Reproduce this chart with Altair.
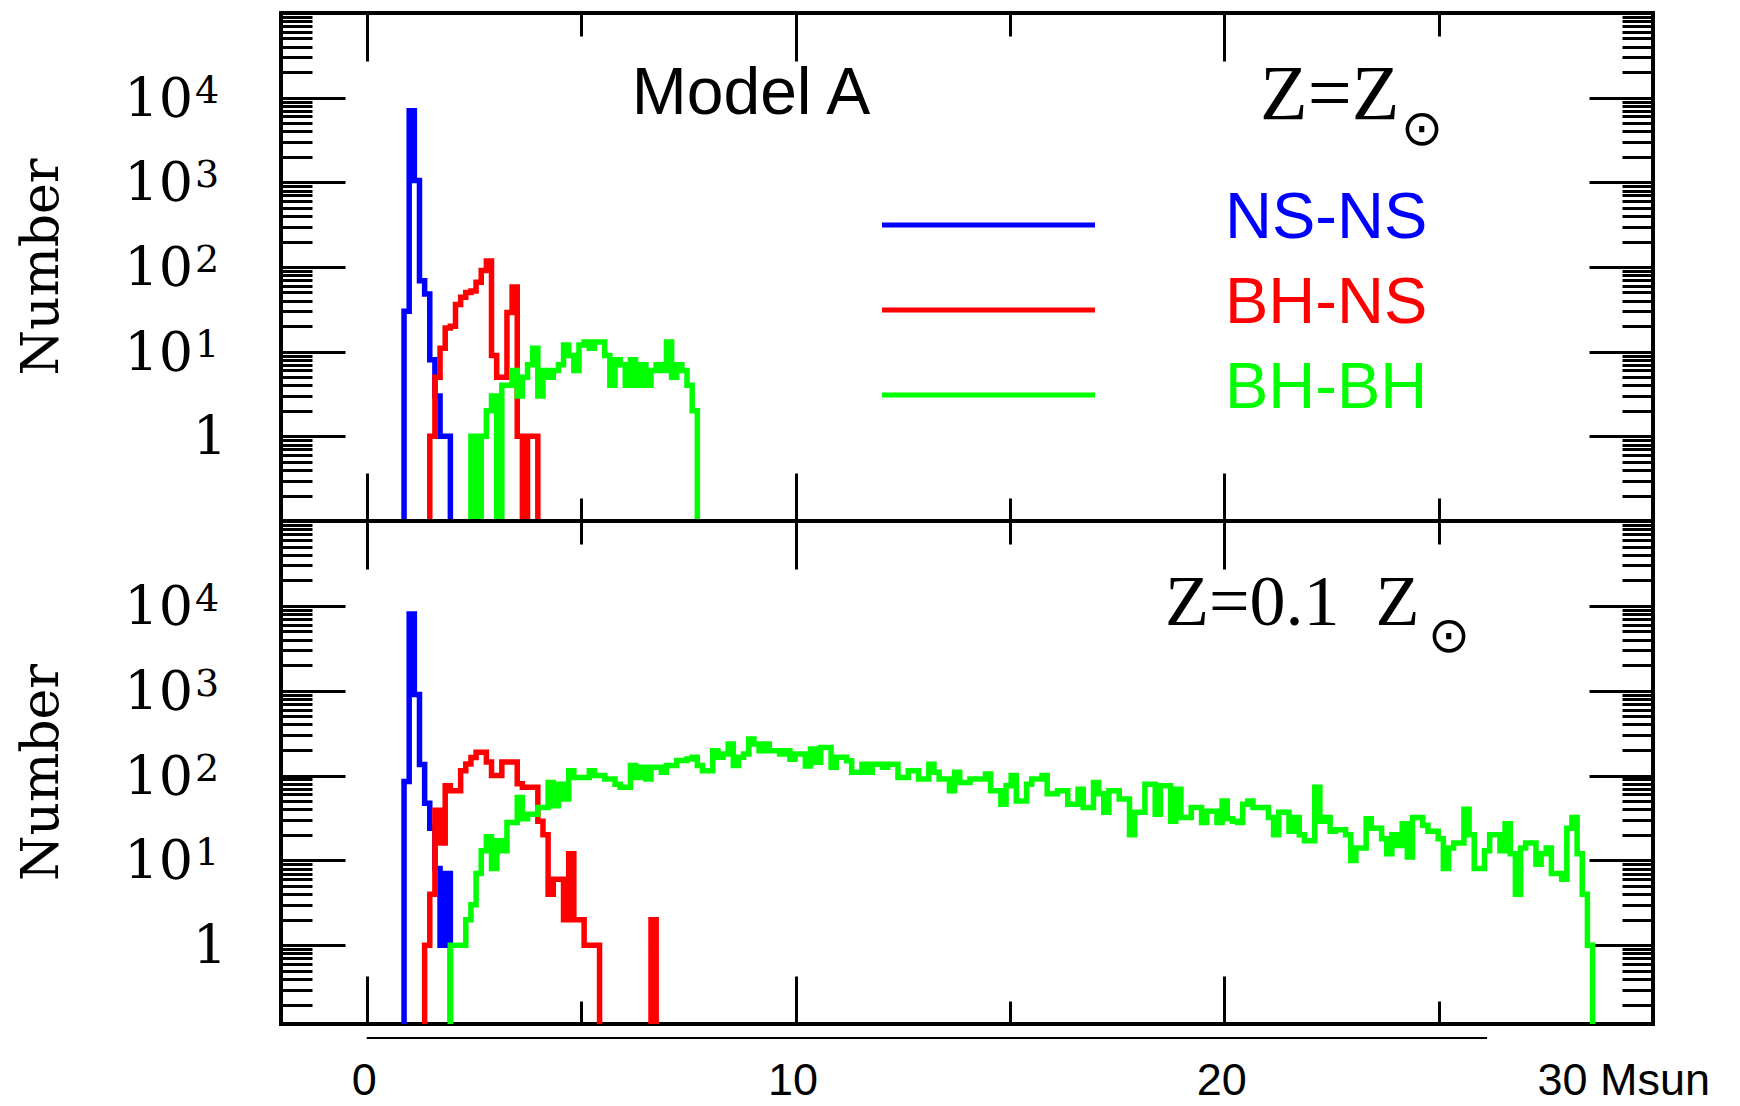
import altair as alt
import pandas as pd

# ---------------- data: counts per mass bin (bin k spans BIN0+k*BINW .. BIN0+(k+1)*BINW Msun)
BIN0 = 0.87
BINW = 0.12
FLOOR = 0.02  # empty bins are drawn below the axis floor (clipped)

series = ["NS-NS", "BH-NS", "BH-BH"]
colors = ["#0000ff", "#ff0000", "#00ff00"]

# Z = Z_sun
top_first = [0, 5, 13]
top_nsns = [30, 7000, 1050, 69, 48, 8, 3, 1, 1]
top_bhns = [1, 5, 11, 19, 20, 36, 44, 50, 52, 66, 91, 118, 9, 5, 5, 29, 58, 1, 0, 1, 1]
top_bhbh = [1, 0, 1, 2, 3, 0, 4, 4, 6, 3, 5, 7, 11, 3, 6, 5, 6, 7, 12, 9, 6, 12, 13, 11,
            13, 13, 9, 4, 8, 7, 4, 8, 4, 7, 4, 6, 7, 6, 13, 5, 7, 6, 4, 2]

# Z = 0.1 Z_sun
bot_first = [0, 4, 9]
bot_nsns = [85, 8000, 900, 135, 47, 24, 8, 1, 7]
bot_bhns = [1, 4, 39, 16, 76, 66, 66, 114, 137, 163, 188, 188, 144, 100, 100, 144, 144, 144,
            80, 73, 73, 73, 29, 20, 4, 6, 6, 2, 12, 2, 2, 1, 1, 1,
            0, 0, 0, 0, 0, 0, 0, 0, 0, 0, 2]
bot_bhbh = [1, 1, 1, 2, 3, 7, 13, 19, 8, 17, 13, 28, 28,
            55, 31, 35, 35, 42, 42, 83, 44, 79, 53, 114, 95, 95, 95, 114, 100, 100, 91, 91, 79,
            73, 73, 131, 95, 125, 91, 125, 125, 109, 131, 131, 150, 150, 157, 164, 131, 114, 114,
            196, 164, 179, 235, 131, 164, 179, 269, 235, 196, 235, 196, 196, 179,
            196, 156, 179, 179, 130, 205, 143, 214, 214, 125, 164, 164, 149, 109, 109, 136, 109,
            136, 136, 125, 136, 136, 95, 95, 114, 114, 91, 91, 136, 109, 91, 91, 66, 109, 83, 83,
            91, 91, 91, 104, 66, 66, 46, 76, 100, 50, 50, 79, 91, 91, 100, 61, 61, 66, 66, 46, 46,
            69, 42, 42, 83, 61, 37, 66, 66, 53, 53, 20, 37, 37, 79, 79, 35, 76, 76, 29, 69, 32, 32,
            42, 42, 28, 38, 38, 28, 50,
            31, 29, 28, 46, 50, 42, 42, 42, 32, 20, 37, 37, 22, 32, 20, 17, 17, 73, 29, 32,
            22, 23, 23, 20, 10, 14, 14, 31, 24, 24, 18, 12, 20, 15, 27, 11, 32, 32, 26, 22,
            22, 18, 8, 14, 16, 16, 40, 20, 8, 8, 13, 20, 20, 13, 27, 12, 4, 14, 16, 16,
            9, 12, 14, 7, 7, 6, 24, 32, 12, 4, 1]

x_domain = [-2, 30]
top_y_domain = [0.1, 1e5]
bot_y_domain = [0.118, 1e5]

decades = [1, 10, 100, 1000, 10000]
decade_base = ["1", "10", "10", "10", "10"]
decade_exps = ["", "1", "2", "3", "4"]
minor_vals = [m * 10.0 ** e for e in range(-1, 5) for m in range(2, 10)]
x_major = [0, 10, 20]
x_minor = [5, 15, 25]
x_label_vals = [0, 10, 20, 30]
label_line = [0, 26.13]

W = 1372
H_TOP = 508
H_BOT = 503


def steps(firsts, lists):
    rows = []
    for name, first, counts in zip(series, firsts, lists):
        pts = [(BIN0 + BINW * first, FLOOR)]
        for j, c in enumerate(counts):
            pts.append((BIN0 + BINW * (first + j), c if c > 0 else FLOOR))
        pts.append((BIN0 + BINW * (first + len(counts)), FLOOR))
        for i, (x, y) in enumerate(pts):
            rows.append({"s": name, "x": round(x, 4), "y": y, "i": i})
    return pd.DataFrame(rows)


def tick_axis(orient, vals, size):
    return alt.Axis(orient=orient, values=vals, offset=-size, tickSize=size,
                    labels=False, domain=False, grid=False, ticks=True, title=None,
                    tickWidth=3, tickColor="black")


def panel(df, ydom, h, extra):
    xs = alt.Scale(domain=x_domain, nice=False, zero=False)
    ys = alt.Scale(type="log", domain=ydom, nice=False)
    dummy = alt.Chart(pd.DataFrame({"x": [0.0], "y": [1.0]}))

    def ax(xaxis=None, yaxis=None):
        return dummy.mark_point(opacity=0).encode(
            x=alt.X("x:Q", scale=xs, axis=xaxis),
            y=alt.Y("y:Q", scale=ys, axis=yaxis))

    lines = alt.Chart(df).mark_line(interpolate="step-after", strokeWidth=5.5, clip=True).encode(
        x=alt.X("x:Q", scale=xs, axis=None),
        y=alt.Y("y:Q", scale=ys, axis=None),
        color=alt.Color("s:N", scale=alt.Scale(domain=series, range=colors), legend=None),
        order=alt.Order("i:Q"))

    lab = alt.Chart(pd.DataFrame({"v": decades, "base": decade_base, "exp": decade_exps}))
    one = lab.transform_filter("datum.v == 1").mark_text(
        align="right", baseline="middle", font="DejaVu Serif", fontSize=54, color="black", dy=3
    ).encode(x=alt.value(-54), y=alt.Y("v:Q", scale=ys, axis=None), text="base:N")
    tens = lab.transform_filter("datum.v > 1").mark_text(
        align="right", baseline="middle", font="DejaVu Serif", fontSize=54, color="black", dy=3
    ).encode(x=alt.value(-88), y=alt.Y("v:Q", scale=ys, axis=None), text="base:N")
    exps = lab.transform_filter("datum.v > 1").mark_text(
        align="left", baseline="middle", font="DejaVu Serif", fontSize=38, color="black", dy=-6
    ).encode(x=alt.value(-86), y=alt.Y("v:Q", scale=ys, axis=None), text="exp:N")
    ytitle = alt.Chart(pd.DataFrame({"t": ["Number"]})).mark_text(
        angle=270, align="center", baseline="alphabetic", font="DejaVu Serif", fontSize=52,
        color="black").encode(x=alt.value(-223), y=alt.value(h / 2), text="t:N")

    layers = [
        lines,
        ax(yaxis=tick_axis("left", decades, 64)),
        ax(yaxis=tick_axis("left", minor_vals, 31)),
        ax(yaxis=tick_axis("right", decades, 64)),
        ax(yaxis=tick_axis("right", minor_vals, 31)),
        ax(xaxis=tick_axis("top", x_major, 48)),
        ax(xaxis=tick_axis("top", x_minor, 23)),
        ax(xaxis=tick_axis("bottom", x_major, 48)),
        ax(xaxis=tick_axis("bottom", x_minor, 23)),
        one, tens, exps, ytitle,
    ] + extra(ax, xs)
    return alt.layer(*layers).properties(width=W, height=h).resolve_axis(
        x="independent", y="independent")


def txt(t, x, y, font, size, color="black", align="left", baseline="alphabetic"):
    return alt.Chart(pd.DataFrame({"t": [t]})).mark_text(
        align=align, baseline=baseline, font=font, fontSize=size, color=color
    ).encode(x=alt.value(x), y=alt.value(y), text="t:N")


def top_extra(ax, xs):
    out = [
        txt("Model A", 470, 101, "Liberation Sans", 66, align="center"),
        txt("Z=Z", 979, 106, "Liberation Serif", 78),
        txt("\u2299", 1141, 117, "DejaVu Sans", 50, align="center", baseline="middle"),
    ]
    ly = [212, 297, 382]
    for name, col, y in zip(series, colors, ly):
        out.append(alt.Chart(pd.DataFrame({"s": [name]})).mark_rule(
            color=col, strokeWidth=5).encode(x=alt.value(601), x2=alt.value(814), y=alt.value(y)))
        out.append(txt(name, 944, y + 13, "Liberation Sans", 65, color=col))
    return out


def bot_extra(ax, xs):
    label_axis = alt.Axis(
        orient="bottom", values=x_label_vals,
        labelExpr="datum.value == 30 ? '30 Msun' : datum.label",
        ticks=False, domain=False, grid=False, title=None,
        labelFont="Liberation Sans", labelFontSize=45, labelColor="black",
        labelBaseline="alphabetic", labelPadding=70, labelFlush=False, labelOverlap=False,
        labelAlign={"condition": {"test": "datum.value == 30", "value": "left"}, "value": "center"},
        labelOffset={"condition": {"test": "datum.value == 30", "value": -116}, "value": -3})
    rule = alt.Chart(pd.DataFrame({"x": [label_line[0]], "x2": [label_line[1]]})).mark_rule(
        color="black", strokeWidth=2).encode(
        x=alt.X("x:Q", scale=xs, axis=None), x2="x2:Q", y=alt.value(H_BOT + 14))
    return [
        ax(xaxis=label_axis),
        rule,
        txt("Z=0.1\u00a0\u00a0Z", 884, 104, "Liberation Serif", 72),
        txt("\u2299", 1168, 116, "DejaVu Sans", 50, align="center", baseline="middle"),
    ]


top = panel(steps(top_first, [top_nsns, top_bhns, top_bhbh]), top_y_domain, H_TOP, top_extra)
bottom = panel(steps(bot_first, [bot_nsns, bot_bhns, bot_bhbh]), bot_y_domain, H_BOT, bot_extra)

chart = alt.vconcat(top, bottom, spacing=0, bounds="flush").configure_view(
    stroke="black", strokeWidth=4
).properties(padding={"left": 6, "top": 1, "right": 5, "bottom": 0})

chart.save("out.html", embed_options={"renderer": "svg", "actions": False})
